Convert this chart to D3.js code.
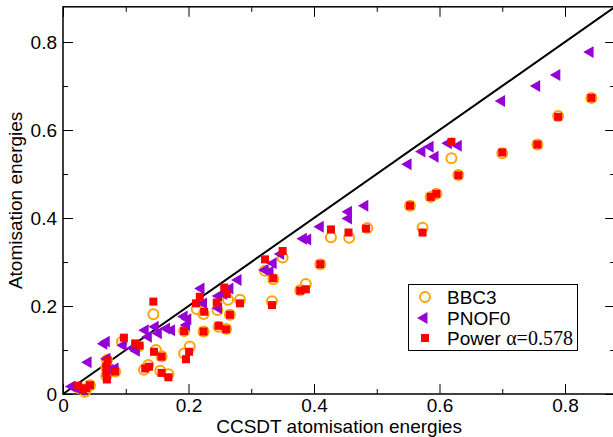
<!DOCTYPE html>
<html>
<head>
<meta charset="utf-8">
<script src="https://cdn.jsdelivr.net/npm/d3@7"></script>
<style>
body { margin: 0; background: #fff; }
text { font-family: "Liberation Sans", Arial, sans-serif; }
</style>
</head>
<body>
<svg id="chart"></svg>
<script>
var width = 613,
height = 437;

// [CCSDT, method] pairs
var bbc3 = [
[0.842,0.673],[0.789,0.632],[0.756,0.567],[0.700,0.547],[0.619,0.536],[0.630,0.498],
[0.595,0.455],[0.586,0.448],[0.553,0.428],[0.573,0.378],[0.485,0.377],[0.456,0.355],
[0.427,0.356],[0.410,0.295],[0.387,0.250],[0.378,0.236],[0.350,0.310],[0.322,0.280],
[0.335,0.261],[0.333,0.211],[0.282,0.214],[0.263,0.214],[0.266,0.180],[0.213,0.193],
[0.224,0.182],[0.246,0.191],[0.193,0.143],[0.224,0.142],[0.248,0.153],[0.260,0.148],
[0.202,0.108],[0.193,0.092],[0.144,0.181],[0.148,0.100],[0.157,0.086],[0.136,0.066],
[0.129,0.055],[0.155,0.053],[0.168,0.045],[0.094,0.119],[0.120,0.108],[0.070,0.077],
[0.069,0.060],[0.069,0.041],[0.083,0.051],[0.026,0.013],[0.035,0.005],[0.043,0.020]
];

var pnof0 = [
[0.840,0.777],[0.787,0.725],[0.755,0.700],[0.699,0.666],[0.630,0.564],[0.614,0.570],
[0.585,0.562],[0.572,0.551],[0.593,0.539],[0.550,0.522],[0.481,0.428],[0.455,0.414],
[0.455,0.399],[0.410,0.380],[0.383,0.353],[0.390,0.351],[0.347,0.318],[0.335,0.297],
[0.322,0.282],[0.330,0.278],[0.279,0.259],[0.266,0.240],[0.248,0.223],[0.256,0.227],
[0.220,0.240],[0.224,0.206],[0.248,0.195],[0.193,0.176],[0.199,0.170],[0.197,0.157],
[0.173,0.145],[0.131,0.145],[0.147,0.153],[0.152,0.138],[0.165,0.149],[0.136,0.130],
[0.069,0.119],[0.065,0.114],[0.096,0.111],[0.112,0.104],[0.117,0.098],[0.040,0.072],
[0.070,0.080],[0.075,0.055],[0.083,0.058],[0.014,0.017],[0.022,0.013],[0.030,0.009]
];

var power = [
[0.842,0.673],[0.789,0.630],[0.756,0.567],[0.700,0.549],[0.619,0.573],[0.630,0.497],
[0.595,0.455],[0.586,0.448],[0.553,0.428],[0.573,0.367],[0.483,0.376],[0.455,0.367],
[0.427,0.374],[0.410,0.295],[0.387,0.238],[0.378,0.235],[0.350,0.325],[0.322,0.306],
[0.335,0.263],[0.333,0.202],[0.282,0.206],[0.257,0.242],[0.261,0.227],[0.218,0.221],
[0.212,0.206],[0.245,0.208],[0.225,0.187],[0.266,0.180],[0.193,0.143],[0.224,0.142],
[0.248,0.155],[0.260,0.147],[0.201,0.096],[0.196,0.079],[0.144,0.210],[0.145,0.096],
[0.157,0.085],[0.137,0.062],[0.131,0.058],[0.157,0.048],[0.168,0.038],[0.097,0.128],
[0.115,0.115],[0.122,0.110],[0.071,0.076],[0.069,0.062],[0.069,0.047],[0.070,0.033],
[0.083,0.051],[0.024,0.019],[0.037,0.013],[0.043,0.020],[0.032,0.009]
];

var majorTicks = [0, 0.2, 0.4, 0.6, 0.8];
var minorTicks = [0.1, 0.3, 0.5, 0.7];
var tickLabels = ["0", "0.2", "0.4", "0.6", "0.8"];
var legendNames = ["BBC3", "PNOF0", "Power "];

var x = d3.scaleLinear().domain([0, 0.88]).range([63, 615.2]);
var y = d3.scaleLinear().domain([0, 0.88]).range([394, 6.8]);

const svg = d3.select("#chart")
.attr("width", width)
.attr("height", height);

var fmt = function (d) { return tickLabels[majorTicks.indexOf(d)]; };

// bottom / left with labels, ticks pointing inward
svg.append("g").attr("transform", "translate(0," + y(0) + ")")
.call(d3.axisBottom(x).tickValues(majorTicks).tickFormat(fmt).tickSizeInner(-10).tickSizeOuter(0).tickPadding(4.5));
svg.append("g").attr("transform", "translate(0," + y(0) + ")")
.call(d3.axisBottom(x).tickValues(minorTicks).tickFormat("").tickSizeInner(-5).tickSizeOuter(0));
svg.append("g").attr("transform", "translate(" + x(0) + ",0)")
.call(d3.axisLeft(y).tickValues(majorTicks).tickFormat(fmt).tickSizeInner(-10).tickSizeOuter(0).tickPadding(6));
svg.append("g").attr("transform", "translate(" + x(0) + ",0)")
.call(d3.axisLeft(y).tickValues(minorTicks).tickFormat("").tickSizeInner(-5).tickSizeOuter(0));

// top / right, no labels
svg.append("g").attr("transform", "translate(0," + y(0.88) + ")")
.call(d3.axisTop(x).tickValues(majorTicks).tickFormat("").tickSizeInner(-10).tickSizeOuter(0));
svg.append("g").attr("transform", "translate(0," + y(0.88) + ")")
.call(d3.axisTop(x).tickValues(minorTicks).tickFormat("").tickSizeInner(-5).tickSizeOuter(0));
svg.append("g").attr("transform", "translate(" + x(0.88) + ",0)")
.call(d3.axisRight(y).tickValues(majorTicks).tickFormat("").tickSizeInner(-10).tickSizeOuter(0));
svg.append("g").attr("transform", "translate(" + x(0.88) + ",0)")
.call(d3.axisRight(y).tickValues(minorTicks).tickFormat("").tickSizeInner(-5).tickSizeOuter(0));

svg.selectAll(".domain").remove();
svg.selectAll(".tick line").attr("stroke", "#000");
svg.selectAll(".tick text").attr("font-size", 19).attr("fill", "#000")
.attr("font-family", "Liberation Sans, Arial, sans-serif");

// frame
svg.append("rect")
.attr("x", x(0)).attr("y", y(0.88))
.attr("width", x(0.88) - x(0)).attr("height", y(0) - y(0.88))
.attr("fill", "none").attr("stroke", "#000").attr("stroke-width", 1.5);

// y = x line
svg.append("line")
.attr("x1", x(0)).attr("y1", y(0))
.attr("x2", x(0.88)).attr("y2", y(0.88))
.attr("stroke", "#000").attr("stroke-width", 2);

var tri = d3.symbol().type(d3.symbolTriangle).size(62);

svg.append("g").selectAll("circle")
.data(bbc3)
.enter().append("circle")
.attr("cx", function (d) { return x(d[0]); })
.attr("cy", function (d) { return y(d[1]); })
.attr("r", 5)
.attr("fill", "none")
.attr("stroke", "#ffa500")
.attr("stroke-width", 2);

svg.append("g").selectAll("path")
.data(pnof0)
.enter().append("path")
.attr("d", tri)
.attr("transform", function (d) { return "translate(" + x(d[0]) + "," + y(d[1]) + ") rotate(-90)"; })
.attr("fill", "#9400d3");

svg.append("g").selectAll("rect")
.data(power)
.enter().append("rect")
.attr("x", function (d) { return x(d[0]) - 4; })
.attr("y", function (d) { return y(d[1]) - 4; })
.attr("width", 8).attr("height", 8)
.attr("fill", "#ff0000");

// axis titles
svg.append("text")
.attr("x", (x(0) + x(0.88)) / 2).attr("y", 433)
.attr("text-anchor", "middle").attr("font-size", 19)
.text("CCSDT atomisation energies");

svg.append("text")
.attr("transform", "translate(22," + (y(0) + y(0.88)) / 2 + ") rotate(-90)")
.attr("text-anchor", "middle").attr("font-size", 19)
.text("Atomisation energies");

// legend
var legend = svg.append("g");
legend.append("rect")
.attr("x", 408.5).attr("y", 284.5).attr("width", 169).attr("height", 66)
.attr("fill", "#fff").attr("stroke", "#000").attr("stroke-width", 1);

var rows = [297, 318, 338];
legend.append("circle").attr("cx", 425).attr("cy", rows[0]).attr("r", 5)
.attr("fill", "none").attr("stroke", "#ffa500").attr("stroke-width", 2);
legend.append("path").attr("d", tri)
.attr("transform", "translate(424," + rows[1] + ") rotate(-90)").attr("fill", "#9400d3");
legend.append("rect").attr("x", 421).attr("y", rows[2] - 4).attr("width", 8).attr("height", 8)
.attr("fill", "#ff0000");

legendNames.forEach(function (name, i) {
    var t = legend.append("text")
    .attr("x", 447).attr("y", rows[i] + 7)
    .attr("font-size", 19)
    .text(name);
    if (i == 2) {
        t.append("tspan")
        .attr("font-family", "Liberation Serif, Times New Roman, serif")
        .attr("font-size", 20)
        .text("\u03b1=0.578");
    }
});
</script>
</body>
</html>
